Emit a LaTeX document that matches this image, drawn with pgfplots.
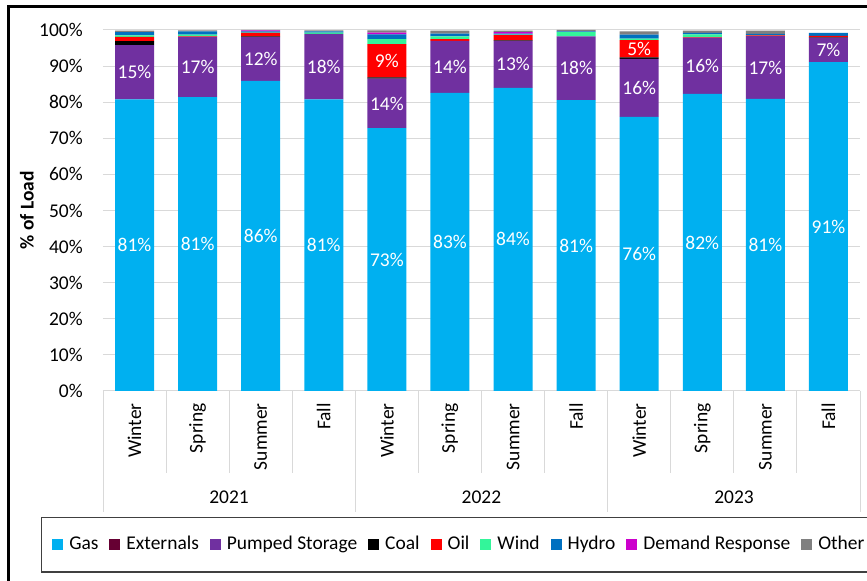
\documentclass[border=0pt]{standalone}
\usepackage{fontspec}
\setmainfont{Carlito}
\usepackage{pgfplots}
\usepackage{pgfplotstable}
\pgfplotsset{compat=1.18}

\definecolor{cGas}{HTML}{00B0F0}
\definecolor{cExt}{HTML}{660033}
\definecolor{cPS}{HTML}{7030A0}
\definecolor{cCoal}{HTML}{000000}
\definecolor{cOil}{HTML}{FF0000}
\definecolor{cWind}{HTML}{33F59A}
\definecolor{cHydro}{HTML}{0070C0}
\definecolor{cDR}{HTML}{CC00CC}
\definecolor{cOther}{HTML}{808080}
\definecolor{gridc}{HTML}{D9D9D9}

% share of load by fuel, per season (percent)
\pgfplotstableread{
x  gas  ext  ps   coal oil  wind hydro dr   other
0  80.8 0.0  15.0 1.1  1.2  0.4  0.9   0.0  0.4
1  81.4 0.0  16.7 0.0  0.1  0.5  0.9   0.0  0.3
2  85.9 0.0  12.1 0.2  1.0  0.1  0.3   0.3  0.1
3  80.8 0.0  18.1 0.0  0.0  0.4  0.3   0.0  0.3
4  72.8 0.0  13.7 0.4  9.2  1.4  1.3   0.5  0.6
5  82.6 0.0  14.4 0.0  0.5  0.7  0.8   0.0  0.8
6  84.0 0.0  13.0 0.1  1.5  0.1  0.3   0.4  0.4
7  80.6 0.0  17.6 0.0  0.0  1.2  0.2   0.0  0.4
8  75.9 0.0  16.1 0.4  4.8  0.4  1.1   0.0  0.9
9  82.3 0.0  15.6 0.0  0.1  0.8  0.4   0.0  0.6
10 80.9 0.0  17.4 0.0  0.2  0.1  0.3   0.0  0.9
11 91.1 0.0  6.8  0.1  0.4  0.0  0.8   0.0  0.0
}\loaddata

\newcommand\chartfont{\fontsize{14.6}{17}\selectfont}

% labels centred inside their stacked segment
\pgfplotsset{
  seglabel/.style={
    nodes near coords={\pgfmathprintnumber[fixed,precision=0]{\seg}\%},
    visualization depends on={\thisrow{#1}\as\seg},
    every node near coord/.style={anchor=center, text=white,
      font=\chartfont, inner sep=0pt},
  },
  biglabel/.style={
    nodes near coords={\ifdim\seg pt>4pt \pgfmathprintnumber[fixed,precision=0]{\seg}\%\fi},
    visualization depends on={\thisrow{#1}\as\seg},
    every node near coord/.style={anchor=center, text=white,
      font=\chartfont, inner sep=0pt},
  },
}

\begin{document}
\begin{tikzpicture}
\path[use as bounding box] (0pt,0pt) rectangle (650.25pt,435.75pt);

\begin{axis}[
  at={(77.25pt,142.5pt)}, anchor=south west,
  scale only axis, width=567.75pt, height=270.75pt,
  ybar stacked, bar width=29.25pt,
  xmin=-0.5, xmax=11.5, ymin=0, ymax=100,
  xtick={0,...,11},
  xticklabels={Winter,Spring,Summer,Fall,Winter,Spring,Summer,Fall,Winter,Spring,Summer,Fall},
  xticklabel style={rotate=90, anchor=east, inner sep=0pt, font=\chartfont},
  xticklabel shift=9pt,
  ytick={0,10,...,100},
  yticklabel={\pgfmathprintnumber{\tick}\%},
  yticklabel style={inner sep=0pt, anchor=east, font=\chartfont},
  yticklabel shift=15pt,
  /pgf/number format/assume math mode=true,
  major tick length=0pt,
  axis x line*=bottom, axis y line*=left,
  y axis line style={draw=none},
  x axis line style={draw=gridc, line width=0.75pt, -},
  ymajorgrids, grid style={gridc, line width=0.75pt},
  legend image code/.code={\fill[#1] (0pt,-4.125pt) rectangle (8.25pt,4.125pt);},
  legend style={at={(-0.06737,-0.42659)}, anchor=west, draw=none, fill=none,
    inner sep=0pt, font=\chartfont,
    nodes={inner sep=0pt, text depth=0pt, text height=0.644em},
    /tikz/every even column/.append style={column sep=8.25pt},
    /tikz/every odd column/.append style={column sep=4.5pt}},
  legend columns=-1,
]
\addplot[fill=cGas, draw=none, seglabel=gas] table[x=x, y=gas] {\loaddata};
\addplot[fill=cExt, draw=none] table[x=x, y=ext] {\loaddata};
\addplot[fill=cPS, draw=none, seglabel=ps] table[x=x, y=ps] {\loaddata};
\addplot[fill=cCoal, draw=none] table[x=x, y=coal] {\loaddata};
\addplot[fill=cOil, draw=none, biglabel=oil] table[x=x, y=oil] {\loaddata};
\addplot[fill=cWind, draw=none] table[x=x, y=wind] {\loaddata};
\addplot[fill=cHydro, draw=none] table[x=x, y=hydro] {\loaddata};
\addplot[fill=cDR, draw=none] table[x=x, y=dr] {\loaddata};
\addplot[fill=cOther, draw=none] table[x=x, y=other] {\loaddata};
\legend{Gas,Externals,Pumped Storage,Coal,Oil,Wind,Hydro,Demand Response,Other}
\end{axis}

% category separators below the axis
\foreach \k in {0,...,12}{
  \pgfmathsetmacro\xx{77.25+47.3125*\k}
  \pgfmathtruncatemacro\grp{mod(\k,4)}
  \ifnum\grp=0
    \draw[gridc, line width=0.75pt] (\xx pt,142.5pt) -- (\xx pt,51.75pt);
  \else
    \draw[gridc, line width=0.75pt] (\xx pt,142.5pt) -- (\xx pt,81pt);
  \fi
}
\node[font=\chartfont] at (171.75pt,63pt) {2021};
\node[font=\chartfont] at (361.1pt,63pt) {2022};
\node[font=\chartfont] at (550.5pt,63pt) {2023};

% value axis title
\node[rotate=90, font=\chartfont\bfseries] at (20.25pt,277.9pt) {\% of Load};

% legend frame and outer frame
\draw[line width=1.1pt, black!75] (31.3pt,6.75pt) rectangle (700pt,47.5pt);
\draw[line width=1.9pt] (6.5pt,-5pt) -- (6.5pt,430.9pt) -- (700pt,430.9pt);
\end{tikzpicture}
\end{document}
